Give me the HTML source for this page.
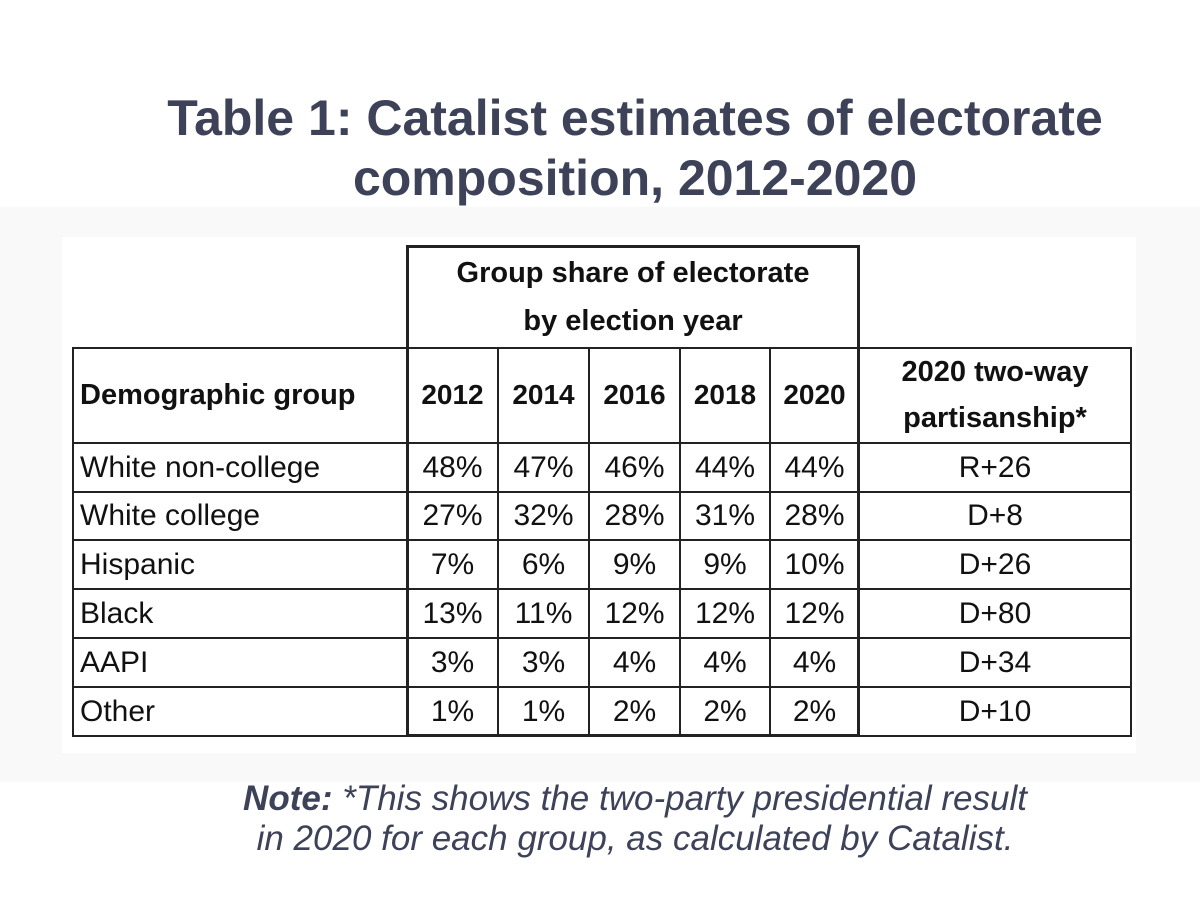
<!DOCTYPE html>
<html><head><meta charset="utf-8"><style>
body{margin:0;width:1200px;height:900px;background:#fff;position:relative;overflow:hidden;font-family:"Liberation Sans",sans-serif}
.a{position:absolute}
.title{left:0;width:1270px;text-align:center;color:#3d4259;font-weight:bold;font-size:50px;line-height:60px}
.cell{position:absolute;display:flex;align-items:center;justify-content:center;font-size:30px;color:#111;box-sizing:border-box;white-space:nowrap}
.hl{position:absolute;background:#222}
.note{left:0;width:1270px;text-align:center;color:#3d4259;font-style:italic;font-size:35px;line-height:40px}
</style></head><body>
<div class="a" style="left:0;top:207px;width:1200px;height:575px;background:#f9f9f9"></div>
<div class="a" style="left:62px;top:237px;width:1074px;height:516px;background:#fff"></div>
<div class="a title" style="top:88px">Table 1: Catalist estimates of electorate<br>composition, 2012-2020</div>
<div id="tbl"></div>
<div class="a note" style="top:779px"><b>Note:</b> *This shows the two-party presidential result<br>in 2020 for each group, as calculated by Catalist.</div>
<script>
const groups=["White non-college","White college","Hispanic","Black","AAPI","Other"];
const years=["2012","2014","2016","2018","2020"];
const shares=[[48,47,46,44,44],[27,32,28,31,28],[7,6,9,9,10],[13,11,12,12,12],[3,3,4,4,4],[1,1,2,2,2]];
const partisanship=["R+26","D+8","D+26","D+80","D+34","D+10"];
const colX=[72,407,498,589,680,770,859,1131];
const rowY=[443,492,540,589,638,687,736];
const tbl=document.getElementById('tbl');
function cell(x,y,w,h,txt,name,extra){const d=document.createElement('div');d.className='cell';d.style.cssText+=`left:${x}px;top:${y}px;width:${w}px;height:${h}px;`+(extra||'');d.innerHTML=txt;


tbl.appendChild(d);}
function line(x,y,w,h,name){const d=document.createElement('div');d.className='hl';d.style.cssText=`left:${x}px;top:${y}px;width:${w}px;height:${h}px`;


tbl.appendChild(d);}
cell(407,246,452,101,'Group share of electorate<br>by election year','group-share-header','font-weight:bold;text-align:center;line-height:48px;font-size:29px;');
cell(72,347,335,96,'Demographic group','demographic-header','font-weight:bold;justify-content:flex-start;padding-left:8px;font-size:29px;');
years.forEach((y,i)=>cell(colX[i+1],347,colX[i+2]-colX[i+1],96,y,'year-header-'+y,'font-weight:bold;font-size:28px;'));
cell(859,347,272,96,'2020 two-way<br>partisanship*','partisanship-header','font-weight:bold;line-height:46px;text-align:center;font-size:29px;');
groups.forEach((g,r)=>{
 cell(72,rowY[r],335,rowY[r+1]-rowY[r],g,'group-label','justify-content:flex-start;padding-left:8px;');
 shares[r].forEach((v,c)=>cell(colX[c+1],rowY[r],colX[c+2]-colX[c+1],rowY[r+1]-rowY[r],v+'%','share-cell'));
 cell(859,rowY[r],272,rowY[r+1]-rowY[r],partisanship[r],'partisanship-cell');
});
line(72,347,1060,2,'header-top-line');
rowY.forEach(y=>line(72,y-1,1060,2,'row-line'));
line(72,347,2,389,'left-border');
line(1130,347,2,389,'right-border');
for(let i=2;i<=5;i++)line(colX[i]-1,347,2,389,'col-line');
line(406,245,3,492,'block-left');
line(857,245,3,492,'block-right');
line(406,245,454,3,'block-top');
line(406,734,454,3,'block-bottom');
</script>
</body></html>
